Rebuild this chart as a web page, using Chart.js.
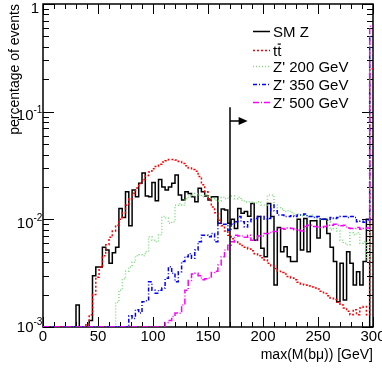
<!DOCTYPE html>
<html lang="en">
<head>
<meta charset="UTF-8">
<title>max(M(bμ)) distributions</title>
<script src="https://cdn.jsdelivr.net/npm/chart.js"></script>
<style>
    body { margin: 0; background: #fff; }
    #histChart { display: block; }
</style>
</head>
<body>
<canvas id="histChart" width="382" height="370"></canvas>
<script>
// histogram binning: 100 bins of 3 GeV from 0 to 300
const binWidth = 3;
const xMin = 0, xMax = 300;
const yMin = 1e-3, yMax = 1;
const xTickValues = [0, 50, 100, 150, 200, 250, 300];
const yTickValues = [1e-3, 1e-2, 1e-1, 1];
const yTickText = [['10', '-3'], ['10', '-2'], ['10', '-1'], ['1', '']];

// selection cut (arrow) in data units
const cutValue = 170;
const cutTop = 0.11;
const arrowLevel = 0.082;
const arrowEnd = 186;

const seriesLabels = ['SM Z', 'tt\u0304', "Z' 200 GeV", "Z' 350 GeV", "Z' 500 GeV"];

const smZ = [
    0, 0, 0, 0, 0, 0, 0, 0, 0, 0,
    0.0016, 0, 0, 0, 0.00115, 0.0030, 0.0036, 0.0036, 0.0055, 0.0052,
    0.0039, 0.0049, 0.0055, 0.0126, 0.0104, 0.0180, 0.0087, 0.0187, 0.0162, 0.0216,
    0.0270, 0.0165, 0.0162, 0.0220, 0.0149, 0.0235, 0.0200, 0.0187, 0.0200, 0.0216,
    0.0258, 0.0168, 0.0151, 0.0180, 0.0174, 0.0162, 0.0146, 0.0194, 0.0180, 0.0165,
    0.0151, 0.0162, 0.0162, 0.0092, 0.0125, 0.0122, 0.0092, 0.0100, 0.0082, 0.0126,
    0.0114, 0.0118, 0.0107, 0.0140, 0.0064, 0.0106, 0.0054, 0.0045, 0.0140, 0.0106,
    0.00245, 0.0084, 0.0050, 0.00555, 0.0045, 0.00405, 0.00405, 0.0100, 0.0052, 0.0102,
    0.0050, 0.0097, 0.0097, 0.0067, 0.0100, 0.0100, 0.0074, 0.0055, 0.00405, 0.00172,
    0.0039, 0.00178, 0.0050, 0.0039, 0.00245, 0.00326, 0.00245, 0.00405, 0.0100, 0
];

const ttbar = [
    0, 0, 0, 0, 0, 0, 0, 0, 0, 0,
    0, 0, 0, 0.00105, 0.0013, 0.0020, 0.0029, 0.0036, 0.0046, 0.0058,
    0.0068, 0.0078, 0.0088, 0.0100, 0.0115, 0.0135, 0.0155, 0.0175, 0.0195, 0.0215,
    0.0235, 0.0255, 0.0275, 0.0295, 0.0310, 0.0325, 0.0340, 0.0350, 0.0360, 0.0360,
    0.0355, 0.0345, 0.0330, 0.0315, 0.0300, 0.0290, 0.0280, 0.0250, 0.0210, 0.0180,
    0.0155, 0.0130, 0.0115, 0.0098, 0.0087, 0.0078, 0.0071, 0.0066, 0.0062, 0.0059,
    0.0057, 0.0055, 0.0053, 0.0051, 0.0048, 0.0046, 0.0044, 0.0042, 0.0039, 0.0037,
    0.0035, 0.0033, 0.0032, 0.0031, 0.00295, 0.00285, 0.00275, 0.0026, 0.0025, 0.00245,
    0.0024, 0.00235, 0.0023, 0.00225, 0.00215, 0.00205, 0.00195, 0.00185, 0.0018, 0.0017,
    0.0016, 0.0015, 0.0014, 0.0013, 0.00145, 0.0013, 0.0015, 0.00155, 0.0013, 0.25
];

const zp200 = [
    0, 0, 0, 0, 0, 0, 0, 0, 0, 0,
    0, 0, 0, 0, 0, 0, 0, 0, 0, 0,
    0, 0, 0.0017, 0.0022, 0.0028, 0.0033, 0.0036, 0.0040, 0.0046, 0.0047,
    0.0046, 0.0050, 0.0069, 0.0064, 0.0062, 0.0072, 0.0106, 0.0103, 0.0092, 0.0095,
    0.0135, 0.0140, 0.0135, 0.0155, 0.0168, 0.0165, 0.0174, 0.0168, 0.0162, 0.0170,
    0.0162, 0.0155, 0.0150, 0.0148, 0.0160, 0.0155, 0.0162, 0.0165, 0.0155, 0.0160,
    0.0150, 0.0145, 0.0146, 0.0146, 0.0142, 0.0146, 0.0136, 0.0136, 0.0168, 0.0168,
    0.0136, 0.0128, 0.0125, 0.0118, 0.0120, 0.0115, 0.0110, 0.0112, 0.0108, 0.0110,
    0.0105, 0.0110, 0.0105, 0.0100, 0.0102, 0.0098, 0.0095, 0.0080, 0.0082, 0.0078,
    0.0064, 0.0060, 0.0058, 0.0075, 0.0072, 0.0075, 0.0060, 0.0062, 0.0042, 0.35
];

const zp350 = [
    0, 0, 0, 0, 0, 0, 0, 0, 0, 0,
    0, 0, 0, 0, 0, 0, 0, 0, 0, 0,
    0, 0, 0, 0, 0, 0, 0.00127, 0.0012, 0.00145, 0.00135,
    0.00172, 0.00175, 0.00263, 0.0022, 0.00206, 0.0022, 0.0023, 0.00283, 0.00363, 0.00315,
    0.00263, 0.00326, 0.00405, 0.0045, 0.0048, 0.00435, 0.0052, 0.0062, 0.0071, 0.0071,
    0.0069, 0.0074, 0.0062, 0.0092, 0.0090, 0.0090, 0.0079, 0.0090, 0.0095, 0.0106,
    0.0095, 0.0085, 0.0095, 0.0100, 0.0102, 0.0106, 0.0106, 0.0100, 0.0102, 0.0136,
    0.0120, 0.0110, 0.0110, 0.0106, 0.0106, 0.0108, 0.0106, 0.0110, 0.0110, 0.0112,
    0.0106, 0.0106, 0.0104, 0.0106, 0.0100, 0.0100, 0.0098, 0.0104, 0.0102, 0.0104,
    0.0106, 0.0106, 0.0104, 0.0106, 0.0104, 0.0095, 0.0096, 0.0094, 0.0098, 0.50
];

const zp500 = [
    0, 0, 0, 0, 0, 0, 0, 0, 0, 0,
    0, 0, 0, 0, 0, 0, 0, 0, 0, 0,
    0, 0, 0, 0, 0, 0, 0, 0, 0, 0,
    0, 0, 0, 0, 0, 0, 0, 0.0011, 0.00115, 0.00125,
    0.00135, 0.00134, 0.0016, 0.0022, 0.0027, 0.0031, 0.00315, 0.0030, 0.00275, 0.0028,
    0.00285, 0.0032, 0.0033, 0.00376, 0.0045, 0.0052, 0.00576, 0.0062, 0.0071, 0.0070,
    0.0070, 0.0068, 0.0071, 0.0064, 0.0064, 0.0070, 0.0070, 0.0074, 0.0074, 0.0077,
    0.0077, 0.0082, 0.0082, 0.0081, 0.0083, 0.0082, 0.0080, 0.0079, 0.0078, 0.0086,
    0.0088, 0.0088, 0.0086, 0.0085, 0.0084, 0.0086, 0.0088, 0.0088, 0.0090, 0.0088,
    0.0087, 0.0088, 0.0083, 0.0082, 0.0082, 0.0084, 0.0081, 0.0082, 0.0083, 0.62
];

const seriesValues = [smZ, ttbar, zp200, zp350, zp500];
const seriesColors = ['#000000', '#ff0000', '#7fdc7f', '#0000ff', '#ff00ff'];
const seriesDash = [[], [2, 2], [1, 2], [4, 2, 1, 2], [6, 2, 1, 2]];
// later entries are painted on top
const seriesOrder = [5, 4, 3, 2, 1];

const fontFamily = '"Liberation Sans", Arial, Helvetica, sans-serif';
Chart.defaults.font.family = fontFamily;
Chart.defaults.color = '#000';

// histogram -> step points at the lower bin edges (+ closing edge)
function toSteps(values) {
    const pts = values.map((v, i) => ({ x: i * binWidth, y: Math.max(v, yMin) }));
    pts.push({ x: values.length * binWidth, y: Math.max(values[values.length - 1], yMin) });
    return pts;
}

function drawLabel(ctx, text, x, base) {
    const i = text.indexOf('\u0304');
    if (i < 0) {
        ctx.fillText(text, x, base);
        return;
    }
    const plain = text.replace('\u0304', '');
    ctx.fillText(plain, x, base);
    const x0 = x + ctx.measureText(plain.slice(0, i - 1)).width;
    const x1 = x + ctx.measureText(plain.slice(0, i)).width;
    ctx.fillRect(x0 + 0.5, base - 12, x1 - x0 - 1, 1.2);
}

const rootFrame = {
    id: 'rootFrame',
    beforeDatasetsDraw(chart) {
        const { ctx, chartArea: a, scales: { x, y } } = chart;
        ctx.save();
        ctx.strokeStyle = '#000';
        ctx.lineWidth = 1;
        ctx.beginPath();
        for (let v = xMin; v <= xMax; v += 10) {
            const px = Math.round(x.getPixelForValue(v)) + 0.5;
            const len = v % 50 === 0 ? 10 : 5;
            ctx.moveTo(px, a.bottom); ctx.lineTo(px, a.bottom - len);
            ctx.moveTo(px, a.top); ctx.lineTo(px, a.top + len);
        }
        for (let d = -3; d <= 0; d++) {
            for (let k = 1; k <= 9; k++) {
                const v = k * Math.pow(10, d);
                if (v > yMax * 1.0001) break;
                const py = Math.round(y.getPixelForValue(v)) + 0.5;
                const len = k === 1 ? 11 : 6;
                ctx.moveTo(a.left, py); ctx.lineTo(a.left + len, py);
                ctx.moveTo(a.right, py); ctx.lineTo(a.right - len, py);
            }
        }
        ctx.stroke();
        ctx.lineWidth = 1.5;
        ctx.strokeRect(a.left, a.top, a.right - a.left, a.bottom - a.top);
        ctx.restore();
    },
    afterDatasetsDraw(chart) {
        const { ctx, chartArea: a, scales: { x, y } } = chart;
        ctx.save();
        ctx.fillStyle = '#000';
        ctx.strokeStyle = '#000';

        // y tick labels with exponents
        yTickValues.forEach((v, i) => {
            const py = y.getPixelForValue(v);
            const [base, exp] = yTickText[i];
            ctx.textBaseline = 'middle';
            if (!exp) {
                ctx.font = '15px ' + fontFamily;
                ctx.textAlign = 'right';
                ctx.fillText(base, 39, Math.max(py + 5, 9));
                return;
            }
            const cy = v === yMin ? py + 1 : py + 4.5;
            ctx.font = '15px ' + fontFamily;
            ctx.textAlign = 'right';
            ctx.fillText(base, 33.5, cy);
            ctx.font = '10px ' + fontFamily;
            ctx.textAlign = 'left';
            ctx.fillText(exp, 33.5, cy - 5.5);
        });

        // cut line with arrow
        const cx = x.getPixelForValue(cutValue);
        const ay = y.getPixelForValue(arrowLevel);
        const ax = x.getPixelForValue(arrowEnd);
        ctx.lineWidth = 1.5;
        ctx.beginPath();
        ctx.moveTo(cx, a.bottom);
        ctx.lineTo(cx, y.getPixelForValue(cutTop));
        ctx.moveTo(cx, ay);
        ctx.lineTo(ax - 6, ay);
        ctx.stroke();
        ctx.beginPath();
        ctx.moveTo(ax, ay);
        ctx.lineTo(ax - 9, ay - 4);
        ctx.lineTo(ax - 9, ay + 4);
        ctx.closePath();
        ctx.fill();

        // legend
        const baselines = [36.7, 55.5, 71.5, 89.5, 107.7];
        ctx.font = '15px ' + fontFamily;
        ctx.textAlign = 'left';
        ctx.textBaseline = 'alphabetic';
        seriesLabels.forEach((label, i) => {
            const base = baselines[i];
            const ly = Math.round(base - 5.5) + 0.5;
            ctx.save();
            ctx.strokeStyle = seriesColors[i];
            ctx.lineWidth = 1.5;
            ctx.setLineDash(seriesDash[i]);
            ctx.beginPath();
            ctx.moveTo(253, ly);
            ctx.lineTo(270, ly);
            ctx.stroke();
            ctx.restore();
            drawLabel(ctx, label, 273, base);
        });
        ctx.restore();
    }
};

new Chart(document.getElementById('histChart'), {
    type: 'line',
    data: {
        datasets: seriesValues.map((vals, i) => ({
            label: seriesLabels[i],
            data: toSteps(vals),
            borderColor: seriesColors[i],
            borderDash: seriesDash[i],
            borderWidth: 1.5,
            stepped: 'before',
            pointRadius: 0,
            fill: false,
            order: seriesOrder[i]
        }))
    },
    options: {
        responsive: false,
        animation: false,
        devicePixelRatio: 1,
        layout: { padding: { top: 4, right: 9, left: 0, bottom: 0 } },
        plugins: {
            legend: { display: false },
            tooltip: { enabled: false }
        },
        scales: {
            x: {
                type: 'linear',
                min: xMin,
                max: xMax,
                afterBuildTicks(scale) {
                    scale.ticks = xTickValues.map(v => ({ value: v }));
                },
                ticks: { font: { size: 15 }, color: '#000', padding: 1, maxRotation: 0, autoSkip: false },
                grid: { display: false, drawTicks: false },
                border: { display: false },
                title: {
                    display: true,
                    text: 'max(M(bμ)) [GeV]',
                    align: 'end',
                    color: '#000',
                    font: { size: 14 },
                    padding: { top: 0, bottom: 6 }
                },
                afterFit(scale) {
                    scale.height = 43;
                    scale.paddingLeft = 0;
                    scale.paddingRight = 0;
                }
            },
            y: {
                type: 'logarithmic',
                min: yMin,
                max: yMax,
                ticks: { display: false },
                grid: { display: false, drawTicks: false },
                border: { display: false },
                title: {
                    display: true,
                    text: 'percentage of events',
                    align: 'end',
                    color: '#000',
                    font: { size: 14 },
                    padding: { top: 6.5, bottom: 0 }
                },
                afterFit(scale) {
                    scale.width = 43;
                }
            }
        }
    },
    plugins: [rootFrame]
});
</script>
</body>
</html>
